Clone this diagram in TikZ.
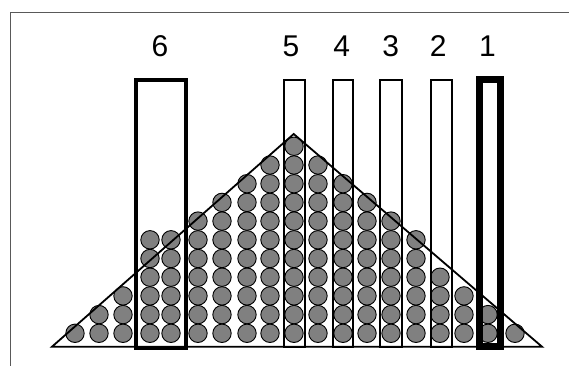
\documentclass[tikz,border=0pt]{standalone}
\usepackage{fontspec}
\setmainfont{Liberation Sans}
\begin{document}
\begin{tikzpicture}[x=1pt,y=-1pt,
  ball/.style={draw=black,line width=0.9pt,fill=black!50},
  heap/.style={draw=black,line width=1.8pt,line join=miter},
  thinbin/.style={draw=black,line width=2pt},
  numlabel/.style={anchor=base,font=\fontsize{30}{36}\selectfont,inner sep=0pt}]
\useasboundingbox (0,0) rectangle (569,366);
% frame
\draw[black!65,line width=1pt] (569,13) -- (10.5,13) -- (10.5,366);
% balls, column by column
\foreach \cx/\n in {75/1,99/2,123/3,150/6,171/6,198/7,222/8,247/9,270/10,294/11,318/10,343/9,367/8,391/7,416/6,440/4,464/3,488/2,515/1}
  \foreach \k in {1,...,\n}
    \draw[ball] (\cx,{333.3-18.7*(\k-1)}) circle (9.2);
% heap outline
\draw[heap] (52,346.7) -- (293.7,134) -- (542,346.7) -- cycle;
% bins
\draw[thinbin] (284.3,80.3) rectangle (304.7,347);
\draw[thinbin] (332.7,80.3) rectangle (353.3,347);
\draw[thinbin] (380.3,80.3) rectangle (401.7,347);
\draw[thinbin] (431,80.3) rectangle (452.3,347);
\draw[line width=4pt] (135.5,80.3) rectangle (186,348);
\draw[line width=7pt] (479.5,79.5) rectangle (500.8,346.5);
% labels
\node[numlabel] (lab6) at (160,56.5) {6};
\node[numlabel] (lab5) at (291,56.5) {5};
\node[numlabel] (lab4) at (341.7,56.5) {4};
\node[numlabel] (lab3) at (390.7,56.5) {3};
\node[numlabel] (lab2) at (438.3,56.5) {2};
\node[numlabel] (lab1) at (487.5,56.5) {1};
\end{tikzpicture}
\end{document}
